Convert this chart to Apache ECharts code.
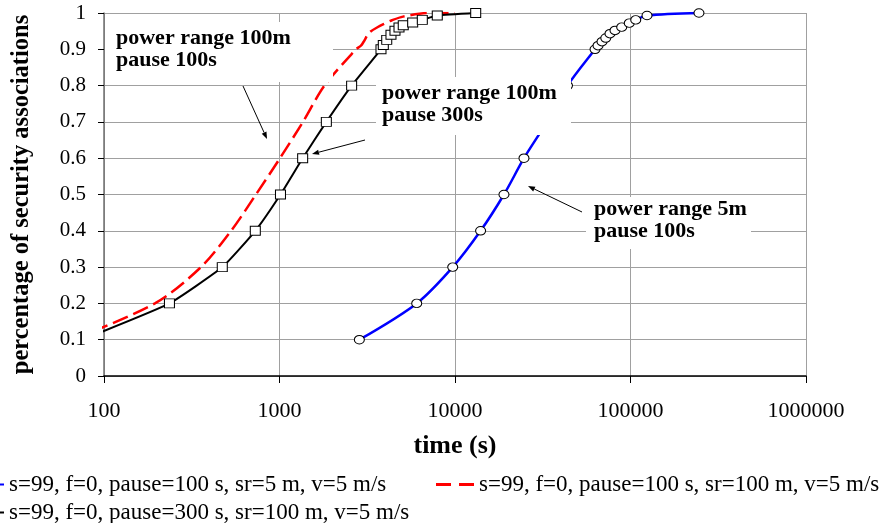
<!DOCTYPE html>
<html>
<head>
<meta charset="utf-8">
<script src="https://cdn.jsdelivr.net/npm/echarts@6/dist/echarts.min.js"></script>
<style>
html,body{margin:0;padding:0;background:#fff;}
#chart{width:879px;height:523px;}
</style>
</head>
<body>
<div id="chart"></div>
<script>
// ---- data ----
const seriesNames = [
  's=99, f=0, pause=100 s, sr=5 m, v=5 m/s',
  's=99, f=0, pause=100 s, sr=100 m, v=5 m/s',
  's=99, f=0, pause=300 s, sr=100 m, v=5 m/s'
];
const xTickLabels = ['100', '1000', '10000', '100000', '1000000'];
const yTickLabels = ['0', '0.1', '0.2', '0.3', '0.4', '0.5', '0.6', '0.7', '0.8', '0.9', '1'];

const blueX = [2851, 6051, 9706, 13990, 19010, 24720, 33430, 43750, 62800, 65300, 68800, 72300, 76400, 81600, 89100, 98400, 107100, 124200, 245500];
const blueY = [0.1, 0.2, 0.3, 0.4, 0.5, 0.6, 0.7, 0.8, 0.9, 0.91, 0.921, 0.931, 0.943, 0.952, 0.961, 0.972, 0.981, 0.993, 1.0];

const redX = [66, 195, 357, 530, 734, 1006, 1361, 1805, 2728, 2911, 3010, 3093, 3172, 3321, 3594, 3939, 4374, 5056, 7210, 10000];
const redY = [0.1, 0.2, 0.3, 0.4, 0.5, 0.6, 0.7, 0.8, 0.9, 0.91, 0.92, 0.93, 0.94, 0.95, 0.96, 0.97, 0.98, 0.99, 1.0, 1.0];

const blackX = [75, 236, 472, 728, 1013, 1355, 1849, 2576, 3787, 3904, 4083, 4317, 4550, 4797, 5072, 5739, 6512, 7925, 13120];
const blackY = [0.1, 0.2, 0.3, 0.4, 0.5, 0.6, 0.7, 0.8, 0.9, 0.912, 0.926, 0.94, 0.951, 0.96, 0.966, 0.974, 0.981, 0.993, 1.0];

const annotations = [
  'power range 100m\npause 100s',
  'power range 100m\npause 300s',
  'power range 5m\npause 100s'
];

// ---- chart ----
const FONT = '"Liberation Serif", "Times New Roman", serif';
const zip = (xs, ys) => xs.map((x, i) => [x, ys[i]]);

const chart = echarts.init(document.getElementById('chart'));

function arrow(x1, y1, x2, y2) {
  const dx = x2 - x1, dy = y2 - y1, len = Math.hypot(dx, dy);
  const ux = dx / len, uy = dy / len;
  const hl = 7, hw = 2.6;
  const bx = x2 - ux * hl, by = y2 - uy * hl;
  return [
    { type: 'line', z: 20, shape: { x1: x1, y1: y1, x2: bx, y2: by }, style: { stroke: '#000', lineWidth: 1 } },
    { type: 'polygon', z: 20, shape: { points: [[x2, y2], [bx - uy * hw, by + ux * hw], [bx + uy * hw, by - ux * hw]] }, style: { fill: '#000' } }
  ];
}

function box(x, y, w, h, tx, ty, text) {
  return [
    { type: 'rect', z: 15, shape: { x: x, y: y, width: w, height: h }, style: { fill: '#fff' } },
    { type: 'text', z: 16, x: tx, y: ty, style: { text: text, fontFamily: FONT, fontWeight: 'bold', fontSize: 22, lineHeight: 22, fill: '#000', verticalAlign: 'top', align: 'left' } }
  ];
}

const legendText = { fontFamily: FONT, fontSize: 23, color: '#000' };

const option = {
  backgroundColor: '#fff',
  animation: false,
  grid: { left: 104, right: 73, top: 13, bottom: 147, containLabel: false },
  legend: [
    { data: [seriesNames[0]], left: -40, top: 468, itemWidth: 38, itemHeight: 14, textStyle: legendText },
    { data: [{ name: seriesNames[1], icon: 'path://M0,0H15V3H0Z M23,0H38V3H23Z', itemStyle: { color: '#ff0000' } }],
      left: 431, top: 468, itemWidth: 38, itemHeight: 3, textStyle: legendText },
    { data: [seriesNames[2]], left: -40, top: 496, itemWidth: 38, itemHeight: 14, textStyle: legendText }
  ],
  xAxis: {
    type: 'log', logBase: 10, min: 100, max: 1000000,
    name: 'time (s)', nameLocation: 'middle', nameGap: 57,
    nameTextStyle: { fontFamily: FONT, fontSize: 26, fontWeight: 'bold', color: '#000' },
    axisLine: { show: true, onZero: false, lineStyle: { color: '#000', width: 1.5 } },
    axisTick: { show: true, inside: false, length: 7, lineStyle: { color: '#000' } },
    axisLabel: { fontFamily: FONT, fontSize: 22, color: '#000', margin: 24,
      formatter: (v, i) => xTickLabels[i] },
    splitLine: { show: true, lineStyle: { color: '#a0a0a0', width: 1 } },
    minorTick: { show: false }
  },
  yAxis: {
    type: 'value', min: 0, max: 1, interval: 0.1,
    name: 'percentage of security associations', nameLocation: 'middle', nameGap: 70, nameRotate: 90,
    nameTextStyle: { fontFamily: FONT, fontSize: 24.5, fontWeight: 'bold', color: '#000' },
    axisLine: { show: true, lineStyle: { color: '#707070', width: 1.5 } },
    axisTick: { show: true, inside: false, length: 6, lineStyle: { color: '#000' } },
    axisLabel: { fontFamily: FONT, fontSize: 21, color: '#000', margin: 18,
      formatter: (v, i) => yTickLabels[i] },
    splitLine: { show: true, lineStyle: { color: '#a0a0a0', width: 1 } }
  },
  series: [
    {
      name: seriesNames[0], type: 'line', data: zip(blueX, blueY), clip: true,
      smooth: 0.3, symbol: 'circle', symbolSize: [10, 8.5],
      lineStyle: { color: '#0000ff', width: 2.5 },
      itemStyle: { color: '#fff', borderColor: '#000', borderWidth: 1 },
      z: 3
    },
    {
      name: seriesNames[1], type: 'line', data: zip(redX, redY), clip: true,
      smooth: 0.3, symbol: 'none',
      lineStyle: { color: '#ff0000', width: 2.5, type: [16, 6] },
      itemStyle: { color: '#ff0000' },
      z: 4
    },
    {
      name: seriesNames[2], type: 'line', data: zip(blackX, blackY), clip: true,
      smooth: 0.15, symbol: 'rect', symbolSize: [10, 9],
      lineStyle: { color: '#000', width: 2 },
      itemStyle: { color: '#fff', borderColor: '#000', borderWidth: 1 },
      z: 5
    }
  ],
  graphic: [].concat(
    box(105, 22, 228, 60, 116, 27, annotations[0]),
    box(376, 77, 195, 58, 382, 82, annotations[1]),
    box(586, 197, 165, 52, 594, 198, annotations[2]),
    arrow(243, 86, 267, 139),
    arrow(365, 140, 312, 154),
    arrow(582, 212, 528, 186)
  )
};

chart.setOption(option);
</script>
</body>
</html>
